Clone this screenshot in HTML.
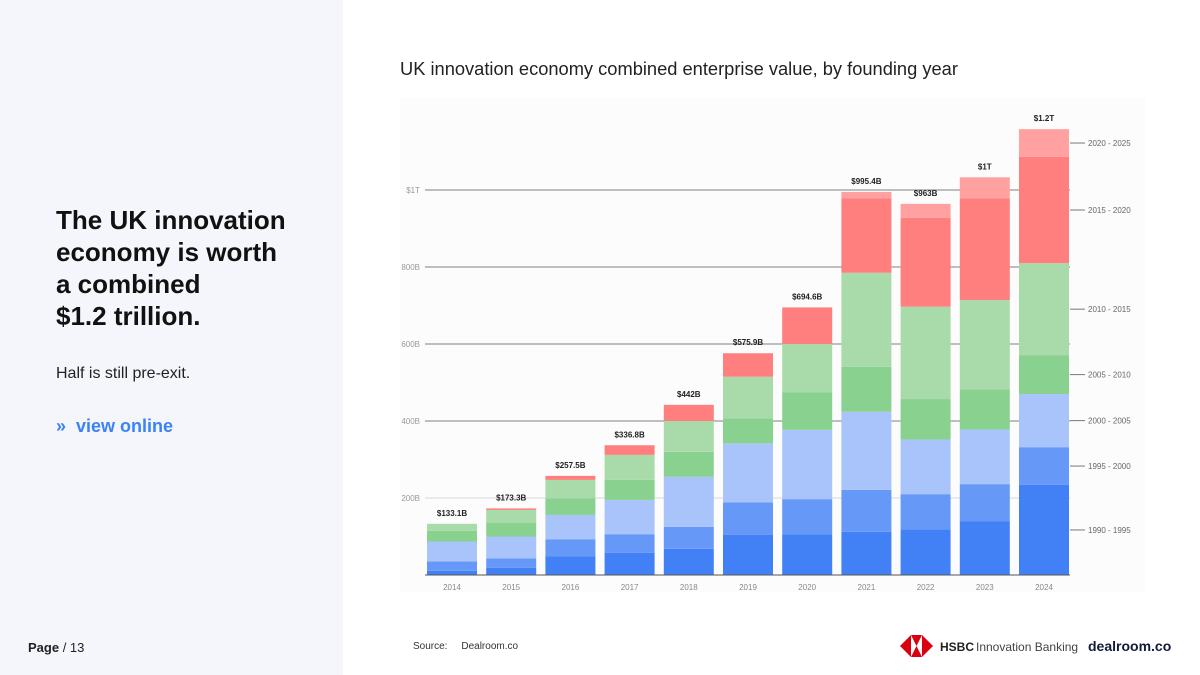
<!DOCTYPE html>
<html><head><meta charset="utf-8"><style>
body{margin:0;width:1200px;height:675px;position:relative;background:#fff;font-family:"Liberation Sans",sans-serif;overflow:hidden}
.left{position:absolute;left:0;top:0;width:343px;height:675px;background:#f5f6fb}
h1{position:absolute;left:56px;top:204px;margin:0;font-size:26px;line-height:32px;font-weight:bold;color:#111;width:280px;white-space:nowrap}
.sub{position:absolute;left:56px;top:365px;font-size:16px;color:#222}
.link{position:absolute;left:56px;top:416px;font-size:18px;font-weight:bold;color:#3b82f6}
.page{position:absolute;left:28px;top:640px;font-size:13px;color:#222}
.title{position:absolute;left:400px;top:58px;font-size:18.3px;color:#222}
.src{position:absolute;left:413px;top:641px;font-size:10px;color:#333}
</style></head><body>
<div class="left"></div>
<h1>The UK innovation<br>economy is worth<br>a combined<br>$1.2 trillion.</h1>
<div class="sub">Half is still pre-exit.</div>
<div class="link">»&nbsp; view online</div>
<div class="page"><b>Page</b> / 13</div>
<div class="title">UK innovation economy combined enterprise value, by founding year</div>
<div class="src">Source:&nbsp;&nbsp;&nbsp;&nbsp; Dealroom.co</div>
<svg width="1200" height="675" style="position:absolute;left:0;top:0" id="svg">
<rect x="400" y="98" width="745" height="494" fill="#fcfcfc"/>
<g id="chart"></g>
<g>
<polygon points="900,646 911,635 911,657" fill="#db0011"/>
<polygon points="933,646 922,635 922,657" fill="#db0011"/>
<polygon points="911,635 922,635 916.5,646" fill="#db0011"/>
<polygon points="911,657 922,657 916.5,646" fill="#db0011"/>
<text x="940" y="651" font-size="12" font-weight="bold" fill="#222">HSBC</text>
<text x="976" y="651" font-size="12" fill="#444">Innovation Banking</text>
</g>
<text x="1088" y="651" font-size="14" font-weight="bold" fill="#111a3a">dealroom.co</text>
</svg>
<script>
const years=["2014","2015","2016","2017","2018","2019","2020","2021","2022","2023","2024"];
const totals=["$133.1B","$173.3B","$257.5B","$336.8B","$442B","$575.9B","$694.6B","$995.4B","$963B","$1T","$1.2T"];
const s1990=[11,19,49,58,68,104,106,112,119,140,234];
const s1995=[24,24,44,48,57,85,91,109,91,96,98];
const s2000=[52,57,63,89,130,153,180,203,142,142,138];
const s2005=[28,36,43,52,65,65,97,117,105,104,101];
const s2010=[18,33,48,65,80,108,126,244,240,232,239];
const s2015=[0,4,10.5,25,42,61,95,193,231,264,276];
const s2020=[0,0,0,0,0,0,0,17,36,55,72];
const seriesNames=["1990 - 1995","1995 - 2000","2000 - 2005","2005 - 2010","2010 - 2015","2015 - 2020","2020 - 2025"];
const yTicks=[200,400,600,800,1000];
const yTickLabels=["200B","400B","600B","800B","$1T"];
const series=[s1990,s1995,s2000,s2005,s2010,s2015,s2020];
const colors=["#4181f5","#6598f7","#a8c4fa","#89d18f","#a8dba9","#ff7f7f","#ffa1a1"];
const NS="http://www.w3.org/2000/svg";
const g=document.getElementById('chart');
const y0=575,x0=425,x1=1070;
const y=v=>y0-v*0.385;
const x=i=>452+i*59.2;
function el(t,a,txt){const e=document.createElementNS(NS,t);for(const k in a)e.setAttribute(k,a[k]);if(txt!==undefined)e.textContent=txt;g.appendChild(e);return e;}
yTicks.forEach((t,i)=>{
 const gl=el('line',{x1:x0,x2:x1,y1:y(t),y2:y(t),stroke:i==0?"#e3e3e3":"#aaa","stroke-width":1.5});
 
 
 const tl=el('text',{x:420,y:y(t)+3,"font-size":8,fill:"#999","text-anchor":"end"},yTickLabels[i]);
 
 
});
years.forEach((yr,i)=>{
 let cum=0;
 series.forEach((s,k)=>{
  if(s[i]<=0)return;
  const r=el('rect',{x:x(i)-25,y:y(cum+s[i]),width:50,height:s[i]*0.385,fill:colors[k]});
  
  
  cum+=s[i];
 });
 const tv=el('text',{x:x(i),y:y(cum)-8,"font-size":8,"font-weight":"bold",fill:"#222","text-anchor":"middle"},totals[i]);
 
 
 const xl=el('text',{x:x(i),y:590,"font-size":8,fill:"#888","text-anchor":"middle"},yr);
 
 
});
const ax=el('line',{x1:x0,x2:x1,y1:y0,y2:y0,stroke:"#555","stroke-width":1});


let cum=0;
series.forEach((s,k)=>{
 const v=s[10];const mid=y(cum+v/2);cum+=v;
 const ln=el('line',{x1:1070,x2:1085,y1:mid,y2:mid,stroke:"#777"});
 
 
 const t=el('text',{x:1088,y:mid+3,"font-size":8,fill:"#666"},seriesNames[k]);
 
 
});
</script>
</body></html>
